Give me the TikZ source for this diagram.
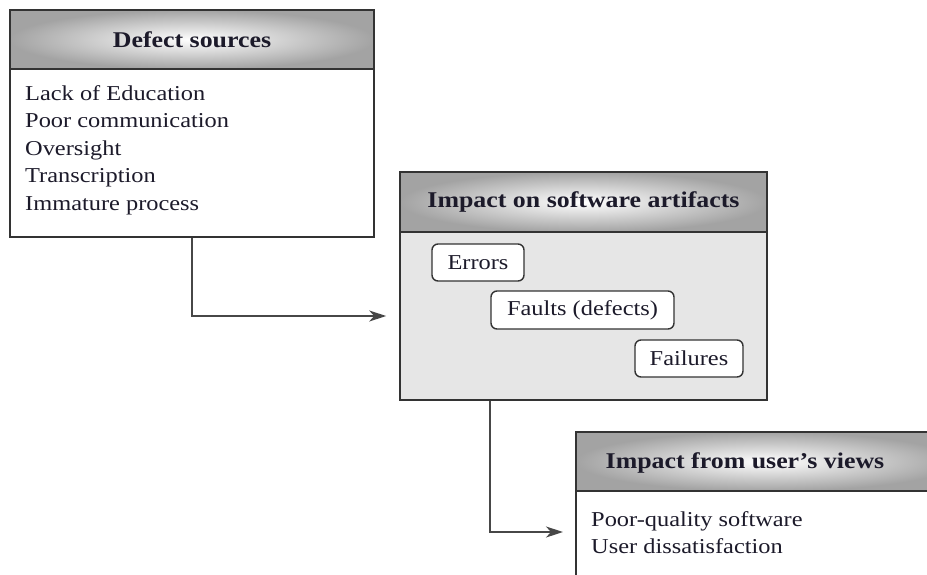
\documentclass[tikz,border=0pt]{standalone}
\usepackage{fontspec}
\setmainfont{Liberation Serif}[FakeStretch=1.15]
\usetikzlibrary{arrows.meta}
\definecolor{edge}{HTML}{333333}
\definecolor{ink}{HTML}{1C1A2A}
\definecolor{bodygray}{HTML}{E6E6E6}
\tikzset{
  head/.style={draw=edge, line width=1.6pt, inner color=white, outer color=black!36, minimum height=#1, inner sep=0pt},
  bodybox/.style={draw=edge, line width=1.6pt, inner sep=0pt},
  title/.style={font=\fontsize{22.5}{26}\selectfont\bfseries, text=ink},
  list/.style={font=\fontsize{21.2}{27.5}\selectfont, text=ink, align=left, inner sep=0pt, anchor=north west},
  pill/.style={draw=edge, line width=1.4pt, fill=white, rounded corners=6pt, inner sep=0pt, font=\fontsize{21.2}{25}\selectfont, text=ink},
  conn/.style={draw=edge!90, line width=1.7pt, -{Stealth[length=17pt,width=11pt,inset=5pt]}, shorten >=13pt},
}
\begin{document}
\begin{tikzpicture}[x=1pt,y=-1pt]
\useasboundingbox (0,0) rectangle (927,574);
\clip (0,0) rectangle (927,574);
% Box 1
\node[head=59pt, minimum width=364pt, title] (h1) at (192,39.5) {Defect sources};
\node[bodybox, fill=white, minimum width=364pt, minimum height=168pt] (b1) at (192,153) {};
\node[list] (l1) at (25,85) {Lack of Education\\Poor communication\\Oversight\\Transcription\\Immature process};
% Box 2
\node[head=60pt, minimum width=367pt, title] (h2) at (583.5,202) {Impact on software artifacts};
\node[bodybox, fill=bodygray, minimum width=367pt, minimum height=168pt] (b2) at (583.5,316) {};
\node[pill, minimum width=92pt, minimum height=37pt] (err) at (478,262.5) {Errors};
\node[pill, minimum width=183pt, minimum height=38pt] (flt) at (582.5,310) {Faults (defects)};
\node[pill, minimum width=108pt, minimum height=37pt] (fail) at (689,358.5) {Failures};
% Box 3
\node[head=59pt, minimum width=380pt] (h3) at (766,461.5) {};
\node[title] (t3) at (745,463) {Impact from user's views};
\node[bodybox, fill=white, minimum width=380pt, minimum height=100pt] (b3) at (766,541) {};
\node[list] (l3) at (591,511) {Poor-quality software\\User dissatisfaction};
\coordinate (in3) at (576,532);
% connectors
\draw[conn] (b1.south) |- (b2.west);
\draw[conn] (flt.west |- b2.south) |- (in3);
\end{tikzpicture}
\end{document}
